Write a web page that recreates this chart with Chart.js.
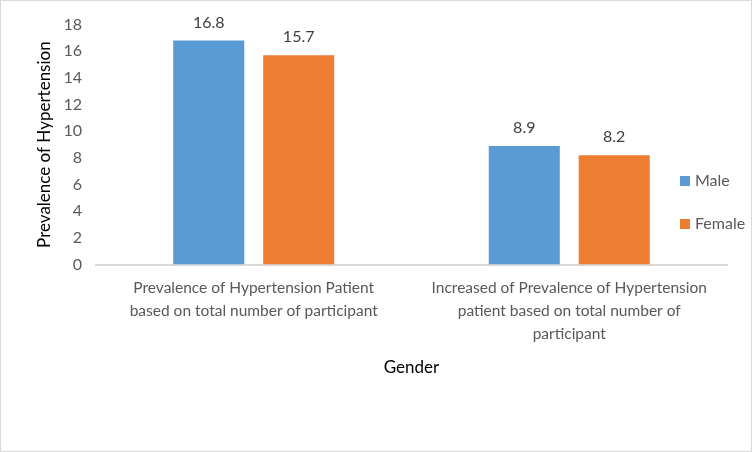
<!DOCTYPE html>
<html>
<head>
<meta charset="utf-8">
<script src="https://cdn.jsdelivr.net/npm/chart.js@4"></script>
<style>
  html, body { margin: 0; padding: 0; background: #fff; }
  #wrap { position: relative; width: 750px; height: 450px; border: 1px solid #d9d9d9; }
</style>
</head>
<body>
<div id="wrap"><canvas id="chart"></canvas></div>
<script>
const categories = [
  ['Prevalence of Hypertension Patient', 'based on total number of participant'],
  ['Increased of Prevalence of Hypertension', 'patient based on total number of', 'participant']
];
const maleValues = [16.8, 8.9];
const femaleValues = [15.7, 8.2];
const yTicks = [0, 2, 4, 6, 8, 10, 12, 14, 16, 18];

const FONT = 'Lato, "Open Sans", sans-serif';

// value labels above each bar
const barLabels = {
  id: 'barLabels',
  afterDatasetsDraw(chart) {
    const ctx = chart.ctx;
    ctx.save();
    ctx.font = '16px ' + FONT;
    ctx.fillStyle = '#404040';
    ctx.textAlign = 'center';
    ctx.textBaseline = 'middle';
    chart.data.datasets.forEach((ds, i) => {
      chart.getDatasetMeta(i).data.forEach((bar, j) => {
        ctx.fillText(ds.data[j].toFixed(1), bar.x, bar.y - 18);
      });
    });
    ctx.restore();
  }
};

// legend drawn over the right side of the plot, like the original
const sideLegend = {
  id: 'sideLegend',
  afterDraw(chart) {
    const ctx = chart.ctx;
    ctx.save();
    ctx.font = '16px ' + FONT;
    ctx.textBaseline = 'middle';
    chart.data.datasets.forEach((ds, i) => {
      const y = 180 + i * 43;
      ctx.fillStyle = ds.backgroundColor;
      ctx.fillRect(679, y - 5, 10, 10);
      ctx.fillStyle = '#595959';
      ctx.fillText(ds.label, 694, y);
    });
    ctx.restore();
  }
};

new Chart(document.getElementById('chart'), {
  type: 'bar',
  data: {
    labels: categories,
    datasets: [
      { label: 'Male', data: maleValues, backgroundColor: '#5B9BD5' },
      { label: 'Female', data: femaleValues, backgroundColor: '#ED7D31' }
    ]
  },
  options: {
    responsive: true,
    maintainAspectRatio: false,
    animation: false,
    categoryPercentage: 0.57,
    barPercentage: 0.79,
    layout: { padding: { left: 27, right: 24, top: 10, bottom: 73 } },
    plugins: {
      legend: { display: false },
      tooltip: { enabled: false }
    },
    scales: {
      x: {
        grid: { display: false },
        border: { display: true, color: '#d9d9d9', width: 2 },
        ticks: { color: '#595959', font: { family: FONT, size: 15.5, lineHeight: '23px' }, padding: 4, maxRotation: 0, autoSkip: false },
        title: { display: true, text: 'Gender', color: '#000', font: { family: FONT, size: 17 }, padding: { top: 8, bottom: 0 } }
      },
      y: {
        min: 0,
        max: 18,
        afterBuildTicks(scale) { scale.ticks = yTicks.map(v => ({ value: v })); },
        grid: { display: false, drawTicks: false },
        border: { display: false },
        ticks: { color: '#595959', font: { family: FONT, size: 16 }, padding: 14 },
        title: { display: true, text: 'Prevalence of Hypertension', color: '#000', font: { family: FONT, size: 17 }, padding: { top: 6, bottom: -5 } }
      }
    }
  },
  plugins: [barLabels, sideLegend]
});
</script>
</body>
</html>
